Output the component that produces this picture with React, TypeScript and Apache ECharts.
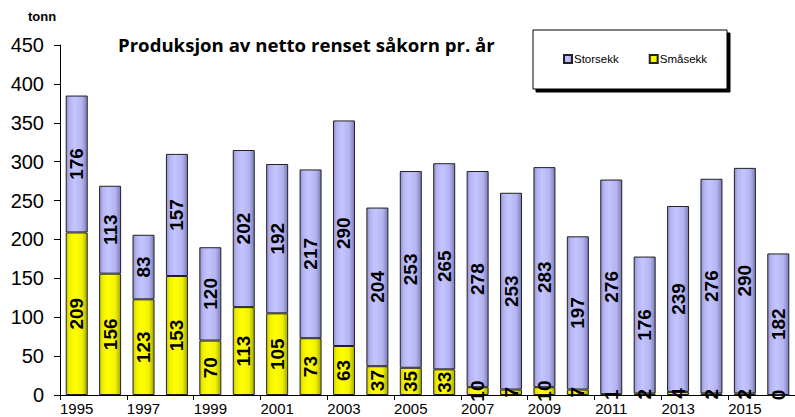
import React, { useEffect, useRef } from "react";
import * as echarts from "echarts";

const years = ["1995","1996","1997","1998","1999","2000","2001","2002","2003","2004","2005","2006","2007","2008","2009","2010","2011","2012","2013","2014","2015","2016"];
const smasekk = [209,156,123,153,70,113,105,73,63,37,35,33,10,7,10,7,1,2,4,2,2,0];
const storsekk = [176,113,83,157,120,202,192,217,290,204,253,265,278,253,283,197,276,176,239,276,290,182];
const yTicks = { min: 0, max: 450, interval: 50 };

const blueGrad = new echarts.graphic.LinearGradient(0, 0, 1, 0, [
  { offset: 0, color: "#8e8ed0" },
  { offset: 0.15, color: "#b4b4f4" },
  { offset: 0.4, color: "#c4c4ff" },
  { offset: 0.75, color: "#b4b4f0" },
  { offset: 1, color: "#7c7cb8" },
]);
const yellowGrad = new echarts.graphic.LinearGradient(0, 0, 1, 0, [
  { offset: 0, color: "#c8c800" },
  { offset: 0.15, color: "#f0f000" },
  { offset: 0.4, color: "#ffff00" },
  { offset: 0.75, color: "#f2f200" },
  { offset: 1, color: "#a8a800" },
]);

const FONT = "Arial, 'Liberation Sans', sans-serif";

const labelStyle = {
  show: true,
  position: "inside" as const,
  rotate: 90,
  fontSize: 19,
  fontWeight: "bold" as const,
  fontFamily: FONT,
  color: "#000",
};

export default function App() {
  const ref = useRef<HTMLDivElement>(null);
  useEffect(() => {
    if (!ref.current) return;
    const chart = echarts.init(ref.current, undefined, { renderer: "svg" });
    chart.setOption({
      animation: false,
      backgroundColor: "#ffffff",
      grid: { left: 60, top: 45, bottom: 22, right: -6, containLabel: false },
      graphic: [
        {
          type: "text",
          left: 28,
          top: 10,
          style: { text: "tonn", font: "bold 13px Arial, 'Liberation Sans', sans-serif", fill: "#000" },
        },
        {
          type: "text",
          left: 118,
          top: 35,
          style: { text: "Produksjon av netto renset såkorn pr. år", font: "bold 18.6px 'Open Sans', sans-serif", fill: "#000" },
        },
        {
          type: "rect",
          shape: { x: 533, y: 30, width: 194, height: 59 },
          style: { fill: "#fff", stroke: "#000", lineWidth: 1, shadowColor: "#000", shadowOffsetX: 3, shadowOffsetY: 3, shadowBlur: 0 },
          z: 0,
        },
      ],
      legend: {
        data: ["Storsekk", "Småsekk"],
        left: 558,
        top: 48,
        icon: "rect",
        itemWidth: 8,
        itemHeight: 8,
        itemGap: 30,
        z: 10,
        textStyle: { fontSize: 11.5, fontFamily: FONT, color: "#000", padding: [0, 0, 0, -3] },
      },
      xAxis: {
        type: "category",
        data: years,
        axisLine: { lineStyle: { color: "#000", width: 1 } },
        axisTick: { show: true, interval: 1, length: 5, lineStyle: { color: "#000" } },
        axisLabel: { interval: 1, fontSize: 15, color: "#000", margin: 6, fontFamily: FONT },
      },
      yAxis: {
        type: "value",
        min: yTicks.min,
        max: yTicks.max,
        interval: yTicks.interval,
        splitLine: { show: false },
        axisLine: { show: true, lineStyle: { color: "#000", width: 1 } },
        axisTick: { show: true, length: 6, lineStyle: { color: "#000" } },
        axisLabel: { fontSize: 20, color: "#000", margin: 16, fontFamily: FONT },
      },
      series: [
        {
          name: "Småsekk",
          type: "bar",
          stack: "total",
          data: smasekk,
          barWidth: 22,
          itemStyle: { color: yellowGrad, borderColor: "#222", borderWidth: 1 },
          label: labelStyle,
        },
        {
          name: "Storsekk",
          type: "bar",
          stack: "total",
          data: storsekk,
          barWidth: 22,
          itemStyle: { color: blueGrad, borderColor: "#222", borderWidth: 1 },
          label: labelStyle,
        },
      ],
    });
    return () => chart.dispose();
  }, []);
  return <div ref={ref} style={{ position: "absolute", left: 0, top: 0, width: 795, height: 417 }} />;
}
